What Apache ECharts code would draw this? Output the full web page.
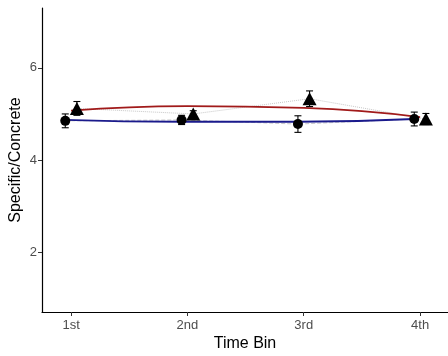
<!DOCTYPE html>
<html>
<head>
<meta charset="utf-8">
<script src="https://cdn.jsdelivr.net/npm/echarts@6/dist/echarts.min.js"></script>
<style>html,body{margin:0;padding:0;background:#fff}#c{width:448px;height:356px}</style>
</head>
<body>
<div id="c"></div>
<script>
// Time bins on the x axis
const bins = ['1st', '2nd', '3rd', '4th'];
const yTicks = [2, 4, 6];

// Group plotted with circles (means and standard errors)
const circleMean = [4.85, 4.87, 4.78, 4.89];
const circleSE   = [0.15, 0.10, 0.18, 0.15];
// Group plotted with triangles
const triMean = [5.12, 5.00, 5.33, 4.89];
const triSE   = [0.15, 0.07, 0.17, 0.12];

// Smoothed trend values at each bin
const circleTrend = [4.87, 4.83, 4.83, 4.89];
const triTrend    = [5.07, 5.17, 5.13, 4.93];

const dodge = 0.05;
const circlePts = circleMean.map((v, i) => [i + 1 - dodge, v]);
const triPts = triMean.map((v, i) => [i + 1 + dodge, v]);
const circleBars = circleMean.map((v, i) => [i + 1 - dodge, v - circleSE[i], v + circleSE[i]]);
const triBars = triMean.map((v, i) => [i + 1 + dodge, v - triSE[i], v + triSE[i]]);
const circleTrendPts = circleTrend.map((v, i) => [i + 1 - dodge, v]);
const triTrendPts = triTrend.map((v, i) => [i + 1, v]);

function errorBars(api) {
  const x = api.value(0);
  const lo = api.coord([x, api.value(1)]);
  const hi = api.coord([x, api.value(2)]);
  const w = 3.5;
  const style = { stroke: '#000', lineWidth: 1.1 };
  return {
    type: 'group',
    children: [
      { type: 'line', shape: { x1: lo[0], y1: lo[1], x2: hi[0], y2: hi[1] }, style },
      { type: 'line', shape: { x1: lo[0] - w, y1: lo[1], x2: lo[0] + w, y2: lo[1] }, style },
      { type: 'line', shape: { x1: hi[0] - w, y1: hi[1], x2: hi[0] + w, y2: hi[1] }, style }
    ]
  };
}

const chart = echarts.init(document.getElementById('c'), null, { renderer: 'canvas' });
const font = 'Liberation Sans, Arial, sans-serif';
chart.setOption({
  animation: false,
  backgroundColor: '#fff',
  grid: { left: 42, right: 0, top: 8, bottom: 44, outerBoundsMode: 'none' },
  xAxis: {
    type: 'value', min: 0.75, max: 4.24,
    name: 'Time Bin', nameLocation: 'middle', nameGap: 24, nameMoveOverlap: false,
    nameTextStyle: { fontFamily: font, fontSize: 16, color: '#000' },
    axisLine: { show: true, onZero: false, lineStyle: { color: '#000', width: 1.2 } },
    axisTick: { show: true, length: 4, customValues: [1, 2, 3, 4], lineStyle: { color: '#333' } },
    axisLabel: {
      customValues: [1, 2, 3, 4], margin: 7,
      formatter: v => bins[Math.round(v) - 1] || '',
      fontFamily: font, fontSize: 13, color: '#4d4d4d'
    },
    splitLine: { show: false }
  },
  yAxis: {
    type: 'value', min: 0.7, max: 7.3,
    name: 'Specific/Concrete', nameLocation: 'middle', nameGap: 18, nameMoveOverlap: false,
    nameTextStyle: { fontFamily: font, fontSize: 16, color: '#000' },
    axisLine: { show: true, onZero: false, lineStyle: { color: '#000', width: 1.2 } },
    axisTick: { show: true, length: 4, customValues: yTicks, lineStyle: { color: '#333' } },
    axisLabel: { customValues: yTicks, margin: 5, fontFamily: font, fontSize: 13, color: '#4d4d4d' },
    splitLine: { show: false }
  },
  series: [
    { type: 'line', data: triPts, symbol: 'none', silent: true,
      lineStyle: { color: '#c8c8c8', width: 1, type: 'dotted' } },
    { type: 'line', data: circlePts, symbol: 'none', silent: true,
      lineStyle: { color: '#c8c8c8', width: 1, type: 'dashed' } },
    { type: 'line', data: triTrendPts, symbol: 'none', smooth: 0.5, silent: true,
      lineStyle: { color: '#a11a1a', width: 1.8 } },
    { type: 'line', data: circleTrendPts, symbol: 'none', smooth: 0.5, silent: true,
      lineStyle: { color: '#1a1a8c', width: 1.8 } },
    { type: 'custom', data: circleBars, renderItem: (p, api) => errorBars(api), z: 5 },
    { type: 'custom', data: triBars, renderItem: (p, api) => errorBars(api), z: 5 },
    { type: 'scatter', data: circlePts, symbol: 'circle', symbolSize: 10,
      itemStyle: { color: '#000', opacity: 1 }, z: 6 },
    { type: 'scatter', data: triPts, symbol: 'triangle', symbolSize: [14, 13],
      itemStyle: { color: '#000', opacity: 1 }, z: 6 }
  ]
});
</script>
</body>
</html>
